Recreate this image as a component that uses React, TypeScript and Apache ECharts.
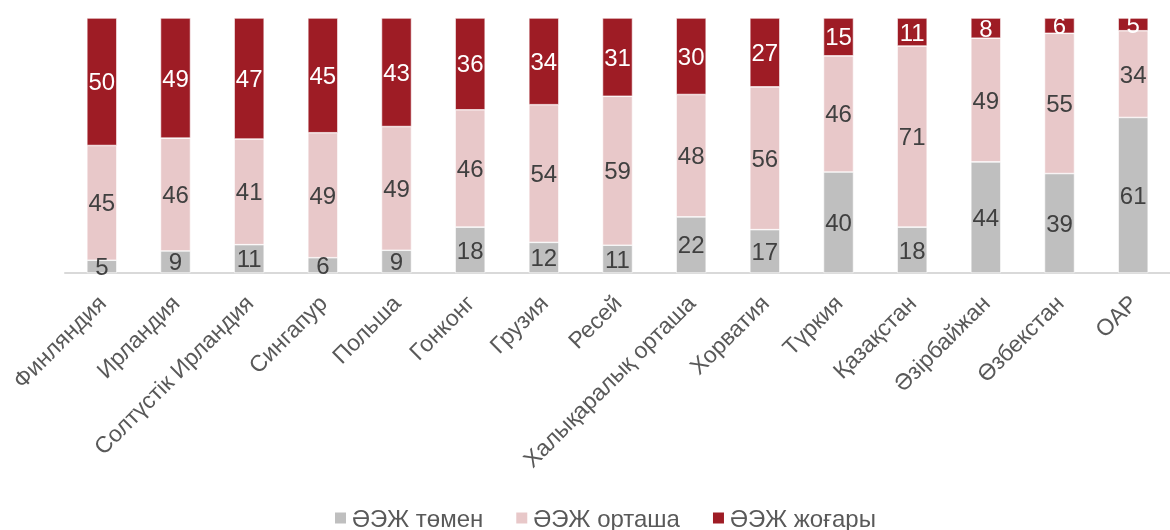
import React, { useEffect, useRef } from "react";
import * as echarts from "echarts";

const categories = [
  "Финляндия",
  "Ирландия",
  "Солтүстік Ирландия",
  "Сингапур",
  "Польша",
  "Гонконг",
  "Грузия",
  "Ресей",
  "Халықаралық орташа",
  "Хорватия",
  "Түркия",
  "Қазақстан",
  "Әзірбайжан",
  "Өзбекстан",
  "ОАР",
];
const lowValues = [5, 9, 11, 6, 9, 18, 12, 11, 22, 17, 40, 18, 44, 39, 61];
const midValues = [45, 46, 41, 49, 49, 46, 54, 59, 48, 56, 46, 71, 49, 55, 34];
const highValues = [50, 49, 47, 45, 43, 36, 34, 31, 30, 27, 15, 11, 8, 6, 5];
const seriesNames = ["ӘЭЖ төмен", "ӘЭЖ орташа", "ӘЭЖ жоғары"];
const colors = ["#bfbfbf", "#e8c8c9", "#9e1c25"];

const FONT = "'Liberation Sans', Arial, sans-serif";

export default function App() {
  const ref = useRef<HTMLDivElement>(null);
  useEffect(() => {
    if (!ref.current) return;
    const chart = echarts.init(ref.current, undefined, { renderer: "svg" });
    const totals = categories.map((_, i) => lowValues[i] + midValues[i] + highValues[i]);
    const all = [lowValues, midValues, highValues];
    const series = all.map((vals, si) => ({
      name: seriesNames[si],
      type: "bar",
      stack: "total",
      barWidth: 30,
      itemStyle: { color: colors[si], borderColor: "#ffffff", borderWidth: 0.6 },
      label: {
        show: true,
        position: "inside",
        fontFamily: FONT,
        fontSize: 24,
        color: si === 2 ? "#ffffff" : "#404040",
        formatter: (p: any) => String(p.data.raw),
      },
      data: vals.map((v, i) => ({ value: (v / totals[i]) * 100, raw: v })),
    }));
    chart.setOption({
      animation: false,
      textStyle: { fontFamily: FONT },
      grid: { left: 65, top: 18, bottom: 257, width: 1117 },
      legend: {
        top: 506,
        left: 333,
        padding: 0,
        itemWidth: 13,
        itemHeight: 13,
        itemGap: 31,
        icon: "rect",
        textStyle: { fontFamily: FONT, fontSize: 24, color: "#595959" },
        data: seriesNames,
      },
      xAxis: {
        type: "category",
        data: categories,
        axisTick: { show: false },
        axisLine: { lineStyle: { color: "#d9d9d9", width: 2 } },
        axisLabel: {
          rotate: 45,
          interval: 0,
          margin: 26,
          fontFamily: FONT,
          fontSize: 23,
          color: "#595959",
        },
      },
      yAxis: { type: "value", min: 0, max: 100, show: false, splitLine: { show: false } },
      series,
    });
    return () => chart.dispose();
  }, []);
  return (
    <div
      ref={ref}
      style={{ position: "fixed", left: 0, top: 0, width: 1170, height: 530 }}
    />
  );
}
